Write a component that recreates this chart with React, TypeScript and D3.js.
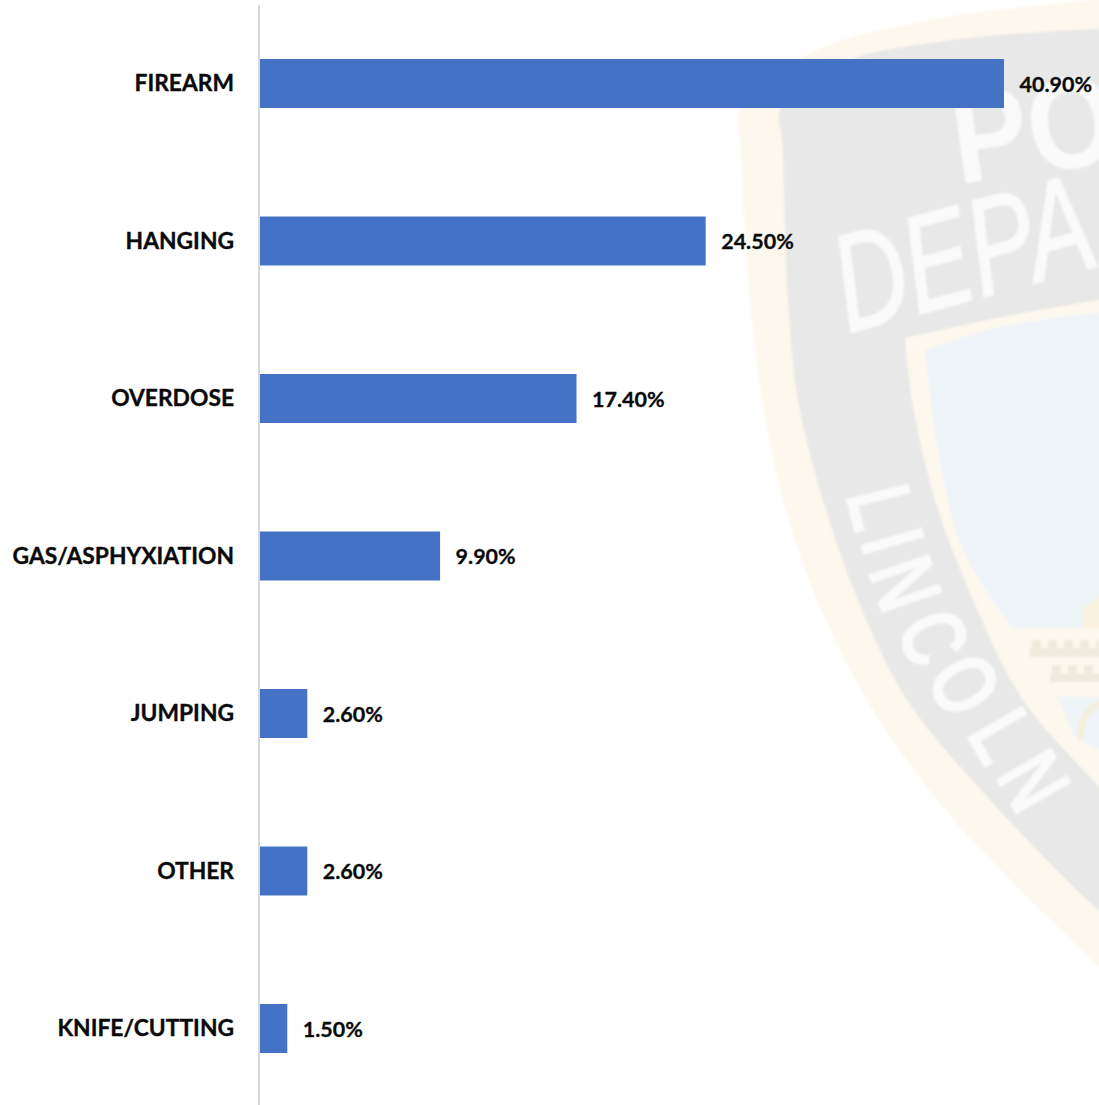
import React from "react";
import * as d3 from "d3";

const categories = ["FIREARM", "HANGING", "OVERDOSE", "GAS/ASPHYXIATION", "JUMPING", "OTHER", "KNIFE/CUTTING"];
const values = [40.9, 24.5, 17.4, 9.9, 2.6, 2.6, 1.5];
const valueLabels = ["40.90%", "24.50%", "17.40%", "9.90%", "2.60%", "2.60%", "1.50%"];

type P = [number, number];
const outerEdge: P[] = [[1110, -2], [1063, 3], [930, 20], [810, 53], [740, 108], [741, 150], [750, 300], [762, 400], [783, 500], [817, 600], [867, 700], [937, 800], [1020, 890], [1110, 977]];
const ringEdge: P[] = [[1110, 28], [1000, 35], [930, 43], [850, 60], [782, 105], [783, 150], [788, 300], [798, 400], [823, 500], [858, 600], [907, 700], [990, 800], [1087, 900], [1110, 920]];
const innerTop: P[] = [[1110, 298], [997, 318], [905, 338]];
const innerSide: P[] = [[905, 338], [912, 400], [935, 500], [973, 600], [1023, 700], [1099, 787], [1110, 800]];
const fieldTop: P[] = [[1110, 311], [1000, 327], [925, 350]];
const fieldSide: P[] = [[925, 350], [938, 450], [963, 550], [1012, 628]];
const lincolnLetters = [
  { c: "L", x: 850, y: 515, r: 76 },
  { c: "I", x: 862, y: 550, r: 74 },
  { c: "N", x: 875, y: 594, r: 71 },
  { c: "C", x: 904, y: 650, r: 67 },
  { c: "O", x: 936, y: 700, r: 62 },
  { c: "L", x: 975, y: 752, r: 60 },
  { c: "N", x: 1006, y: 797, r: 60 },
];

const W = 1099, H = 1105;
const FONT = "Lato, Carlito, sans-serif";

export default function App() {
  const x = d3.scaleLinear().domain([0, 40.9]).range([260, 1004]);
  const y = d3.scaleBand<string>().domain(categories).range([4.75, 1107.25]).paddingInner(0.689).paddingOuter(0.3445);
  const curve = d3.line().curve(d3.curveCatmullRom.alpha(0.5));
  const two = (a: P[], b: P[]) => curve(a)! + "L" + curve(b)!.slice(1);
  const merlons1 = d3.range(1032, 1100, 16);
  const merlons2 = d3.range(1052, 1100, 16);
  return (
    <svg width={W} height={H} style={{ position: "absolute", left: 0, top: 0, background: "#fff" }}>
      <defs>
        <filter id="soft" x="-5%" y="-5%" width="110%" height="110%">
          <feGaussianBlur stdDeviation="0.8" />
        </filter>
      </defs>
      <g filter="url(#soft)">
        <path d={curve(outerEdge) + "Z"} fill="#fdf8ee" />
        <path d={curve(ringEdge) + "Z"} fill="#e8e8e8" />
        <path d={two(innerTop, innerSide) + "Z"} fill="#fdf8ee" />
        <path d={two(fieldTop, fieldSide) + "L1110,628Z"} fill="#eff4f9" />
        <path d="M1083,628 L1083,608 L1099,596 L1110,596 L1110,628Z" fill="#f9f2de" />
        <rect x={1030} y={648} width={80} height={9} fill="#efebdd" />
        <rect x={1050} y={674} width={60} height={8} fill="#efebdd" />
        {merlons1.map((m) => <rect key={m} x={m} y={640} width={9} height={9} fill="#efebdd" />)}
        {merlons2.map((m) => <rect key={m} x={m} y={665} width={9} height={9} fill="#efebdd" />)}
        <path d="M1057,697 L1110,697 L1110,755 L1075,737Z" fill="#eff4f9" />
        <path d="M1082,740 C1078,725 1085,708 1104,702" fill="none" stroke="#f5efdf" strokeWidth={7} />
        <text fontFamily="Liberation Sans" fontWeight={700} fontSize={130} fill="#fafafa" transform="translate(958 184) rotate(-8) scale(0.88 1)">PO</text>
        <text fontFamily="Liberation Sans" fontStyle="italic" fontSize={138} fill="#fafafa" stroke="#fafafa" strokeWidth={2} transform="translate(848 333) rotate(-15) scale(0.72 1)">DEPA</text>
        {lincolnLetters.map((l, i) => (
          <text key={i} fontFamily="Liberation Sans" fontWeight={700} fontSize={93} fill="#fafafa" textAnchor="middle" transform={`translate(${l.x} ${l.y}) rotate(${l.r}) scale(0.74 1)`}>{l.c}</text>
        ))}
      </g>
      <line x1={259} x2={259} y1={5} y2={H} stroke="#d9d9d9" strokeWidth={2} />
      {categories.map((c, i) => {
        const cy = y(c)! + y.bandwidth() / 2;
        return (
          <g key={c}>
            <rect x={x(0)} y={y(c)} width={x(values[i]) - x(0)} height={y.bandwidth()} fill="#4472c4" />
            <text x={234} y={cy + 7.5} textAnchor="end" fontFamily={FONT} fontWeight={700} fontSize={22.8} fill="#0a0a0a" stroke="#0a0a0a" strokeWidth={0.35}>{c}</text>
            <text x={x(values[i]) + 15.5} y={cy + 8} fontFamily={FONT} fontWeight={700} fontSize={21.5} fill="#0a0a0a" stroke="#0a0a0a" strokeWidth={0.3}>{valueLabels[i]}</text>
          </g>
        );
      })}
    </svg>
  );
}
